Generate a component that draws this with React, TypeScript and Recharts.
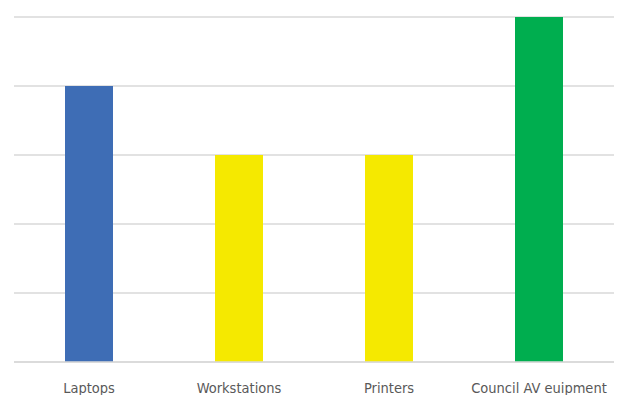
import { BarChart, Bar, XAxis, YAxis, CartesianGrid, Cell } from "recharts";

const categories = ["Laptops", "Workstations", "Printers", "Council AV euipment"];
const counts = [4, 3, 3, 5];
const barColors = ["#3E6DB5", "#F5E900", "#F5E900", "#00AE4F"];
const yTicks = [0, 1, 2, 3, 4, 5];

const data = categories.map((name, i) => ({ name, count: counts[i] }));

export default function App() {
  return (
    <div style={{ position: "absolute", left: 0, top: 0, width: 618, height: 395, background: "#fff" }}>
      <BarChart
        width={618}
        height={395}
        data={data}
        margin={{ top: 17, right: 4, bottom: 0, left: 14 }}
        barCategoryGap="34%"
      >
        <CartesianGrid vertical={false} stroke="#d9d9d9" strokeWidth={1.5} />
        <XAxis
          dataKey="name"
          height={33}
          tickLine={false}
          axisLine={{ stroke: "#d9d9d9", strokeWidth: 1.5 }}
          tick={{ fill: "#595959", fontSize: 14.5, fontFamily: "'DejaVu Sans Condensed', sans-serif" }}
          dy={13}
          interval={0}
        />
        <YAxis hide domain={[0, 5]} ticks={yTicks} />
        <Bar dataKey="count" isAnimationActive={false}>
          {data.map((d, i) => (
            <Cell key={d.name} fill={barColors[i]} />
          ))}
        </Bar>
      </BarChart>
    </div>
  );
}
